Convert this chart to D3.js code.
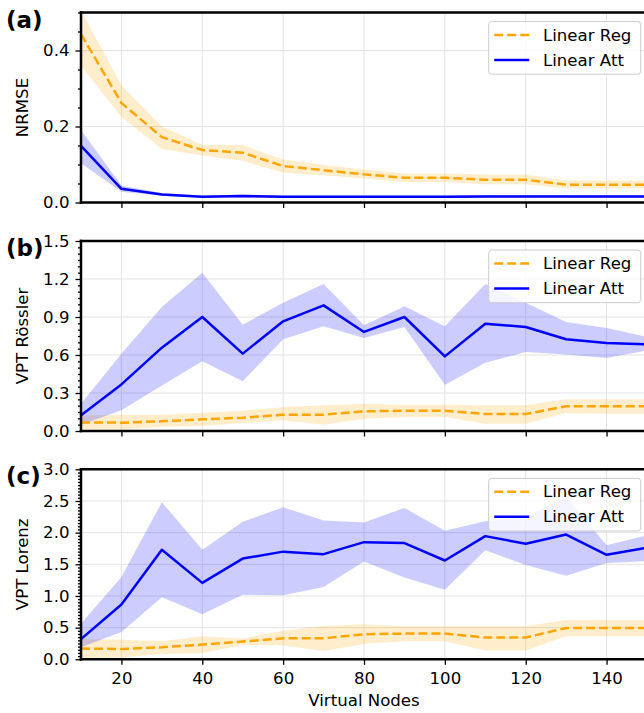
<!DOCTYPE html>
<html>
<head>
<meta charset="utf-8">
<script src="https://cdn.jsdelivr.net/npm/d3@7"></script>
<style>
  html, body { margin: 0; padding: 0; background: #fff; }
  svg { display: block; }
  text { font-family: "DejaVu Sans", sans-serif; fill: #000; }
</style>
</head>
<body>
<svg id="chart" width="644" height="713"></svg>
<script>
// Virtual node counts on the shared x axis
const nodes = [10, 20, 30, 40, 50, 60, 70, 80, 90, 100, 110, 120, 130, 140, 150];
const xTicks = [20, 40, 60, 80, 100, 120, 140];

// (a) NRMSE
const nrmseRegMean = [0.443, 0.262, 0.172, 0.138, 0.131, 0.096, 0.085, 0.074, 0.065, 0.065, 0.060, 0.060, 0.047, 0.047, 0.047];
const nrmseRegLo   = [0.360, 0.225, 0.141, 0.124, 0.110, 0.078, 0.072, 0.063, 0.054, 0.054, 0.048, 0.048, 0.037, 0.037, 0.037];
const nrmseRegHi   = [0.505, 0.308, 0.200, 0.151, 0.151, 0.113, 0.099, 0.087, 0.076, 0.076, 0.074, 0.074, 0.058, 0.058, 0.058];
const nrmseAttMean = [0.149, 0.036, 0.021, 0.015, 0.017, 0.015, 0.015, 0.015, 0.015, 0.015, 0.016, 0.016, 0.016, 0.016, 0.016];
const nrmseAttLo   = [0.103, 0.028, 0.018, 0.012, 0.013, 0.012, 0.012, 0.012, 0.012, 0.012, 0.013, 0.013, 0.013, 0.013, 0.013];
const nrmseAttHi   = [0.191, 0.045, 0.025, 0.018, 0.021, 0.018, 0.018, 0.018, 0.018, 0.018, 0.020, 0.020, 0.019, 0.019, 0.019];

// (b) VPT Rössler
const rosRegMean = [0.068, 0.066, 0.076, 0.092, 0.105, 0.129, 0.129, 0.155, 0.160, 0.160, 0.134, 0.134, 0.195, 0.195, 0.195];
const rosRegLo   = [0.013, 0.013, 0.032, 0.039, 0.063, 0.084, 0.050, 0.097, 0.110, 0.110, 0.058, 0.058, 0.142, 0.137, 0.137];
const rosRegHi   = [0.124, 0.129, 0.129, 0.145, 0.160, 0.190, 0.203, 0.216, 0.208, 0.208, 0.203, 0.203, 0.250, 0.250, 0.250];
const rosAttMean = [0.124, 0.368, 0.658, 0.900, 0.611, 0.866, 0.992, 0.782, 0.900, 0.589, 0.847, 0.821, 0.724, 0.695, 0.684];
const rosAttLo   = [0.050, 0.163, 0.360, 0.550, 0.392, 0.724, 0.826, 0.734, 0.821, 0.366, 0.539, 0.624, 0.603, 0.576, 0.637];
const rosAttHi   = [0.216, 0.610, 0.979, 1.250, 0.839, 1.013, 1.161, 0.834, 0.984, 0.826, 1.161, 1.013, 0.861, 0.813, 0.742];

// (c) VPT Lorenz
const lorRegMean = [0.169, 0.163, 0.190, 0.232, 0.280, 0.332, 0.332, 0.395, 0.406, 0.406, 0.343, 0.343, 0.495, 0.495, 0.495];
const lorRegLo   = [0.000, 0.030, 0.084, 0.100, 0.227, 0.216, 0.130, 0.243, 0.285, 0.285, 0.137, 0.137, 0.364, 0.364, 0.364];
const lorRegHi   = [0.320, 0.310, 0.285, 0.364, 0.330, 0.450, 0.527, 0.553, 0.522, 0.522, 0.522, 0.522, 0.620, 0.620, 0.620];
const lorAttMean = [0.320, 0.865, 1.730, 1.207, 1.590, 1.700, 1.660, 1.850, 1.835, 1.560, 1.945, 1.824, 1.970, 1.650, 1.760];
const lorAttLo   = [0.190, 0.430, 0.980, 0.710, 1.020, 1.010, 1.140, 1.545, 1.290, 1.100, 1.720, 1.490, 1.320, 1.520, 1.550];
const lorAttHi   = [0.560, 1.300, 2.480, 1.730, 2.170, 2.400, 2.190, 2.160, 2.390, 2.030, 2.180, 2.250, 2.560, 1.800, 1.960];

const seriesNames = ["Linear Reg", "Linear Att"];
const regColor = "#ffa500";
const attColor = "#0000ff";

const panels = [
  { tag: "(a)", ylabel: "NRMSE", top: 12.5, ymax: 0.5, major: [0, 0.2, 0.4], minorStep: 0.05, fmt: d3.format(".1f"),
    reg: [nrmseRegMean, nrmseRegLo, nrmseRegHi], att: [nrmseAttMean, nrmseAttLo, nrmseAttHi], xLabels: false },
  { tag: "(b)", ylabel: "VPT Rössler", top: 241, ymax: 1.5, major: [0, 0.3, 0.6, 0.9, 1.2, 1.5], minorStep: 0.05, fmt: d3.format(".1f"),
    reg: [rosRegMean, rosRegLo, rosRegHi], att: [rosAttMean, rosAttLo, rosAttHi], xLabels: false },
  { tag: "(c)", ylabel: "VPT Lorenz", top: 469.3, ymax: 3.0, major: [0, 0.5, 1, 1.5, 2, 2.5, 3], minorStep: 0.05, fmt: d3.format(".1f"),
    reg: [lorRegMean, lorRegLo, lorRegHi], att: [lorAttMean, lorAttLo, lorAttHi], xLabels: true }
];

const fontSize = 16.6;
const svg = d3.select("#chart");
const plotLeft = 81, plotRight = 647, plotH = 190;
const x = d3.scaleLinear().domain([10, 150]).range([plotLeft, plotRight]);

panels.forEach((p, pi) => {
  const y = d3.scaleLinear().domain([0, p.ymax]).range([p.top + plotH, p.top]);
  const g = svg.append("g");

  const clipId = "clip" + pi;
  svg.append("clipPath").attr("id", clipId)
    .append("rect").attr("x", plotLeft).attr("y", p.top).attr("width", plotRight - plotLeft).attr("height", plotH);

  // grid
  const grid = g.append("g").attr("clip-path", `url(#${clipId})`);
  grid.selectAll(".gx").data(xTicks).join("line")
    .attr("x1", d => x(d)).attr("x2", d => x(d)).attr("y1", p.top).attr("y2", p.top + plotH)
    .attr("stroke", "#e3e3e3").attr("stroke-width", 1);
  grid.selectAll(".gy").data(p.major).join("line")
    .attr("x1", plotLeft).attr("x2", plotRight).attr("y1", d => y(d)).attr("y2", d => y(d))
    .attr("stroke", "#e3e3e3").attr("stroke-width", 1);

  // bands and lines
  const plot = g.append("g").attr("clip-path", `url(#${clipId})`);
  const area = (lo, hi) => d3.area().x((d, i) => x(nodes[i])).y0((d, i) => y(lo[i])).y1((d, i) => y(hi[i]))(nodes);
  const line = vals => d3.line().x((d, i) => x(nodes[i])).y((d, i) => y(vals[i]))(nodes);

  plot.append("path").attr("d", area(p.reg[1], p.reg[2])).attr("fill", regColor).attr("fill-opacity", 0.2);
  plot.append("path").attr("d", area(p.att[1], p.att[2])).attr("fill", attColor).attr("fill-opacity", 0.2);
  plot.append("path").attr("d", line(p.reg[0])).attr("fill", "none").attr("stroke", regColor)
    .attr("stroke-width", 2.5).attr("stroke-dasharray", "9,4");
  plot.append("path").attr("d", line(p.att[0])).attr("fill", "none").attr("stroke", attColor)
    .attr("stroke-width", 2.5).attr("stroke-linejoin", "round");

  // y axis: major + minor ticks
  const minor = d3.range(0, p.ymax + 1e-9, p.minorStep).filter(v => !p.major.some(m => Math.abs(m - v) < 1e-9));
  const yMinor = g.append("g").attr("transform", `translate(${plotLeft},0)`)
    .call(d3.axisLeft(y).tickValues(minor).tickSize(3).tickFormat(""));
  const yMajor = g.append("g").attr("transform", `translate(${plotLeft},0)`)
    .call(d3.axisLeft(y).tickValues(p.major).tickSize(5.5).tickPadding(6).tickFormat(p.fmt));
  [yMinor, yMajor].forEach(a => {
    a.select(".domain").remove();
    a.selectAll(".tick line").attr("stroke", "#000").attr("stroke-width", 1.3);
  });
  yMajor.selectAll(".tick text").attr("font-size", fontSize).attr("font-family", "DejaVu Sans");

  // x axis
  const xa = g.append("g").attr("transform", `translate(0,${p.top + plotH})`)
    .call(d3.axisBottom(x).tickValues(xTicks).tickSize(5.5).tickPadding(7)
      .tickFormat(p.xLabels ? d3.format("d") : ""));
  xa.select(".domain").remove();
  xa.selectAll(".tick line").attr("stroke", "#000").attr("stroke-width", 1.3);
  xa.selectAll(".tick text").attr("font-size", fontSize).attr("font-family", "DejaVu Sans");

  // spines
  const sp = g.append("g").attr("stroke", "#000").attr("stroke-width", 2.5).attr("stroke-linecap", "square");
  sp.append("line").attr("x1", plotLeft).attr("x2", plotLeft).attr("y1", p.top).attr("y2", p.top + plotH);
  sp.append("line").attr("x1", plotLeft).attr("x2", plotRight).attr("y1", p.top + plotH).attr("y2", p.top + plotH);
  sp.append("line").attr("x1", plotLeft).attr("x2", plotRight).attr("y1", p.top).attr("y2", p.top);
  sp.append("line").attr("x1", plotRight).attr("x2", plotRight).attr("y1", p.top).attr("y2", p.top + plotH);

  // y label
  g.append("text")
    .attr("transform", `translate(28,${p.top + plotH / 2}) rotate(-90)`)
    .attr("text-anchor", "middle").attr("font-size", fontSize).text(p.ylabel);

  // panel tag
  g.append("text").attr("x", 6).attr("y", p.top + 15)
    .attr("font-family", "Liberation Sans, Arial, sans-serif").attr("font-weight", "bold")
    .attr("font-size", 23).text(p.tag);

  // legend
  const lx = 488.7, ly = p.top + 9, lw = 152, lh = 52.7;
  const lg = g.append("g");
  lg.append("rect").attr("x", lx).attr("y", ly).attr("width", lw).attr("height", lh).attr("rx", 3)
    .attr("fill", "#fff").attr("fill-opacity", 0.8).attr("stroke", "#cccccc").attr("stroke-width", 1);
  seriesNames.forEach((name, i) => {
    const base = ly + 19 + i * 25;
    lg.append("line").attr("x1", lx + 5.5).attr("x2", lx + 40.5).attr("y1", base - 5.5).attr("y2", base - 5.5)
      .attr("stroke", i === 0 ? regColor : attColor).attr("stroke-width", 2.5)
      .attr("stroke-dasharray", i === 0 ? "9,4" : null);
    lg.append("text").attr("x", lx + 54.3).attr("y", base).attr("font-size", fontSize).text(name);
  });
});

// shared x label
svg.append("text").attr("x", x(80)).attr("y", 706).attr("text-anchor", "middle")
  .attr("font-size", fontSize).text("Virtual Nodes");
</script>
</body>
</html>
